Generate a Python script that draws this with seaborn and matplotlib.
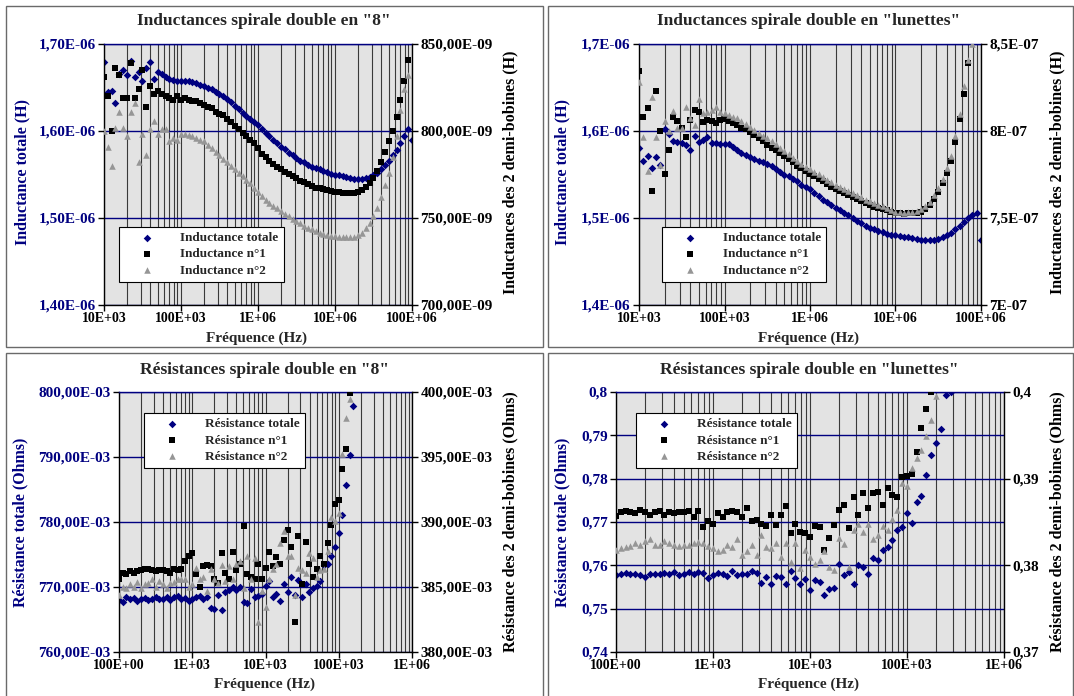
import numpy as np
import pandas as pd
import matplotlib
matplotlib.use("Agg")
import matplotlib.pyplot as plt
from matplotlib.patches import Rectangle
from matplotlib.ticker import FixedLocator, FixedFormatter, LogLocator, NullFormatter
import seaborn as sns

nan = np.nan

# mantisses des points de mesure dans chaque décade
MANTISSES = [1.00, 1.12, 1.26, 1.41, 1.58, 1.78, 2.00, 2.24, 2.51, 2.82,
             3.16, 3.55, 3.98, 4.47, 5.01, 5.62, 6.31, 7.08, 7.94, 8.91]

# --- Inductances "8" (total en uH, demi-bobines en nH), 10 kHz -> 100 MHz
L8_TOTAL = [1.679, 1.645, 1.646, 1.632, 1.666, 1.670, 1.664, 1.680, 1.662, 1.668,
            1.657, 1.672, 1.679, 1.660, 1.668, 1.665, 1.662, 1.660, 1.659, 1.657,
            1.657, 1.658, 1.657, 1.656, 1.655, 1.653, 1.652, 1.650, 1.648, 1.645,
            1.643, 1.640, 1.637, 1.633, 1.629, 1.625, 1.621, 1.617, 1.614, 1.610,
            1.607, 1.602, 1.598, 1.594, 1.590, 1.586, 1.582, 1.579, 1.575, 1.572,
            1.569, 1.566, 1.564, 1.561, 1.559, 1.557, 1.556, 1.554, 1.553, 1.551,
            1.550, 1.549, 1.548, 1.547, 1.546, 1.545, 1.545, 1.545, 1.546, 1.547,
            1.549, 1.552, 1.556, 1.561, 1.566, 1.572, 1.578, 1.586, 1.594, 1.602,
            1.590]
L8_N1 = [831, 820, 800, 836, 832, 819, 819, 839, 819, 824,
         835, 814, 826, 821, 823, 821, 820, 819, 818, 820,
         818, 819, 818, 817, 817, 816, 815, 814, 813, 811,
         810, 809, 807, 805, 803, 801, 799, 797, 795, 793,
         790, 787, 785, 783, 781, 779.5, 778, 776.5, 775, 774,
         773, 771.5, 770.5, 769.5, 768.5, 767.5, 767, 766.5, 766, 765.5,
         765, 764.7, 764.5, 764.3, 764.2, 764.2, 764.8, 766, 768, 770,
         773, 777, 782, 788, 794, 800, 808, 818, 829, 841,
         nan]
L8_N2 = [800, 791, 780, 802, 811, 802, 797, 811, 816, 782,
         798, 786, 801, 806, 798, 801, 801, 794, 796, 795,
         798, 798, 797.5, 797, 796, 795, 794, 792, 790, 788,
         786, 784, 782, 780, 778, 776, 774, 772, 770, 767.5,
         765, 762.5, 760.5, 758.5, 757, 755.5, 754, 752.5, 751, 749.5,
         748, 747, 745.5, 744.5, 743.5, 742.5, 741.5, 741, 740.3, 739.8,
         739.4, 739.2, 739, 739, 739, 739.2, 740, 741.5, 744, 747,
         751, 756, 762, 769, 776, 785, 797, 812, 824, 832,
         nan]

# --- Inductances "lunettes"
LL_TOTAL = [1.581, 1.566, 1.571, 1.558, 1.570, 1.561, 1.602, 1.596, 1.588, 1.587,
            1.586, 1.584, 1.578, 1.594, 1.587, 1.590, 1.593, 1.586, 1.586, 1.585,
            1.585, 1.585, 1.582, 1.578, 1.575, 1.572, 1.570, 1.568, 1.566, 1.564,
            1.562, 1.560, 1.556, 1.553, 1.550, 1.548, 1.545, 1.542, 1.538, 1.536,
            1.533, 1.529, 1.525, 1.521, 1.518, 1.515, 1.512, 1.509, 1.506, 1.503,
            1.500, 1.497, 1.494, 1.491, 1.489, 1.487, 1.485, 1.484, 1.482, 1.481,
            1.480, 1.479, 1.478, 1.478, 1.477, 1.476, 1.475, 1.475, 1.475, 1.475,
            1.476, 1.478, 1.480, 1.483, 1.487, 1.491, 1.495, 1.500, 1.504, 1.506,
            1.475]
LL_N1 = [834.7, 807.9, 813, 765.7, 823.2, 800.2, 775.3, 789, 807.9, 805.9,
         801.5, 796.7, 806.3, 812.1, 811.1, 805.4, 806.3, 805.9, 804.4, 806.3,
         806.9, 805.5, 804.4, 803.5, 802, 801, 799.5, 797.5, 796, 794,
         792, 790.5, 789, 787.5, 785.5, 784, 782, 780, 778.5, 777,
         775.5, 774, 772.5, 771, 769.5, 768, 766.8, 765.6, 764.4, 763.2,
         762, 760.8, 759.6, 758.4, 757.4, 756.6, 755.9, 755.3, 754.5, 753.5,
         752.7, 752.6, 752.5, 752.6, 752.7, 753, 753.6, 755, 757.5, 761,
         765.1, 770, 776, 783, 793.8, 807, 821, 839, nan, nan,
         nan]
LL_N2 = [828.4, 796.7, 777.2, 819.3, 796.7, 780.5, 805.9, 800.2, 811.7, 801.5,
         801.5, 813.6, 807.3, 803.4, 818.2, 810.2, 811.1, 812, 814, 811.1,
         810.2, 809, 807.9, 807.3, 805.5, 803.8, 802.2, 800.5, 799, 797.4,
         795.8, 794.2, 792.5, 790.5, 788.5, 786.5, 784.5, 782.5, 781, 779.5,
         778, 776.5, 775, 773.5, 772, 770.5, 769, 767.8, 766.6, 765.4,
         764.2, 763, 761.8, 760.6, 759.5, 758.5, 757.6, 756.7, 755.6, 754.5,
         753.6, 753.2, 753, 753.2, 753.5, 754, 755, 756.7, 759.4, 763,
         767.5, 772.5, 778.5, 785.5, 797, 810, 826, 841, 850, nan,
         nan]

# --- Résistances "8" (mOhm), 100 Hz -> 160 kHz
R8_TOTAL = [768.0, 767.7, 768.4, 768.2, 768.3, 767.9, 768.1, 768.3, 768.0, 768.2,
            768.4, 768.1, 768.2, 768.5, 768.0, 768.4, 768.6, 768.2, 768.3, 767.8,
            768.1, 768.4, 768.6, 768.1, 768.5, 766.8, 766.6, 768.7, 766.4, 769.3,
            769.6, 770.0, 769.6, 770.0, 767.7, 767.6, 769.7, 768.4, 768.6, 768.9,
            770.1, 771.0, 768.5, 769.0, 767.9, 770.4, 769.2, 771.5, 768.8, 771.1,
            768.4, 770.5, 769.2, 769.9, 770.1, 771.0, 773.4, 773.6, 774.8, 776.2,
            778.3, 781.1, 785.7, 790.3, 797.8]
R8_N1 = [385.6, 386.1, 386.0, 386.2, 386.1, 386.2, 386.3, 386.4, 386.4, 386.3,
         386.2, 386.3, 386.3, 386.2, 386.1, 386.4, 386.3, 386.4, 387.0, 387.4,
         387.6, 386.0, 385.0, 386.6, 386.7, 386.6, 385.6, 385.3, 387.6, 386.1,
         385.6, 387.7, 386.3, 386.8, 389.7, 386.0, 385.8, 385.6, 386.8, 385.6,
         386.5, 387.7, 386.6, 387.3, 386.8, 388.6, 389.4, 388.1, 382.3, 388.9,
         385.2, 388.5, 386.8, 385.8, 386.4, 387.4, 386.8, 388.4, 389.8, 391.4,
         391.7, 394.1, 395.6, 399.9, nan]
R8_N2 = [384.4, 385.0, 384.9, 385.2, 385.0, 385.4, 384.9, 385.2, 385.3, 385.6,
         385.0, 385.5, 385.2, 384.9, 385.3, 385.4, 385.6, 385.6, 385.6, 385.0,
         385.2, 386.5, 385.6, 385.8, 384.7, 386.4, 385.6, 385.3, 386.7, 385.5,
         386.6, 385.6, 386.8, 387.0, 384.9, 387.4, 385.6, 387.2, 382.3, 384.7,
         383.5, 385.6, 386.4, 386.8, 388.4, 389.3, 387.4, 387.4, 384.4, 386.5,
         386.3, 386.1, 387.6, 387.2, 385.8, 386.3, 386.4, 387.8, 390.4, 390.1,
         390.7, 395.2, 398.0, 399.5, nan]

# --- Résistances "lunettes" (Ohm), 100 Hz -> 280 kHz
RL_TOTAL = [0.7578, 0.7580, 0.7582, 0.7579, 0.7581, 0.7578, 0.7572, 0.7581, 0.7579, 0.7581,
            0.7583, 0.7579, 0.7584, 0.7577, 0.7580, 0.7585, 0.7579, 0.7584, 0.7582, 0.7570,
            0.7577, 0.7582, 0.7580, 0.7575, 0.7586, 0.7578, 0.7580, 0.7579, 0.7586, 0.7582,
            0.7560, 0.7573, 0.7558, 0.7576, 0.7574, 0.7556, 0.7586, 0.7571, 0.7557, 0.7569,
            0.7544, 0.7566, 0.7562, 0.7531, 0.7545, 0.7547, 0.7604, 0.7578, 0.7585, 0.7558,
            0.7600, 0.7597, 0.7580, 0.7616, 0.7612, 0.7635, 0.7643, 0.7658, 0.7682, 0.7689,
            0.7720, 0.7697, 0.7747, 0.7759, 0.7809, 0.7855, 0.7882, 0.7915, 0.7994, 0.8000]
RL_N1 = [0.3857, 0.3861, 0.3863, 0.3862, 0.3860, 0.3864, 0.3862, 0.3858, 0.3862, 0.3863,
         0.3858, 0.3862, 0.3860, 0.3862, 0.3861, 0.3863, 0.3856, 0.3863, 0.3844, 0.3851,
         0.3848, 0.3860, 0.3856, 0.3862, 0.3863, 0.3861, 0.3856, 0.3866, 0.3851, 0.3852,
         0.3848, 0.3845, 0.3858, 0.3847, 0.3858, 0.3868, 0.3837, 0.3848, 0.3839, 0.3837,
         0.3833, 0.3845, 0.3844, 0.3818, 0.3831, 0.3847, 0.3864, 0.3870, 0.3843, 0.3879,
         0.3858, 0.3883, 0.3866, 0.3883, 0.3885, 0.3870, 0.3889, 0.3881, 0.3879, 0.3902,
         0.3903, 0.3905, 0.3931, 0.3958, 0.3980, 0.4000, nan, nan, nan, nan]
RL_N2 = [0.3818, 0.3820, 0.3821, 0.3822, 0.3826, 0.3824, 0.3828, 0.3830, 0.3824, 0.3823,
         0.3828, 0.3826, 0.3824, 0.3822, 0.3824, 0.3823, 0.3826, 0.3827, 0.3826, 0.3822,
         0.3820, 0.3816, 0.3818, 0.3824, 0.3821, 0.3830, 0.3812, 0.3816, 0.3824, 0.3812,
         0.3835, 0.3821, 0.3820, 0.3826, 0.3810, 0.3826, 0.3804, 0.3826, 0.3797, 0.3818,
         0.3810, 0.3802, 0.3806, 0.3816, 0.3798, 0.3795, 0.3831, 0.3825, 0.3798, 0.3841,
         0.3848, 0.3839, 0.3848, 0.3830, 0.3835, 0.3845, 0.3841, 0.3854, 0.3864, 0.3895,
         0.3891, 0.3912, 0.3924, 0.3933, 0.3949, 0.3968, 0.3995, nan, nan, nan]

# axes (graduations et libellés)
XT_HAUT = [1e4, 1e5, 1e6, 1e7, 1e8]
XL_HAUT = ['10E+03', '100E+03', '1E+06', '10E+06', '100E+06']
XT_BAS = [1e2, 1e3, 1e4, 1e5, 1e6]
XL_BAS = ['100E+00', '1E+03', '10E+03', '100E+03', '1E+06']

YT_L8 = [1.40e-6, 1.50e-6, 1.60e-6, 1.70e-6]
YL_L8 = ['1,40E-06', '1,50E-06', '1,60E-06', '1,70E-06']
YT2_L8 = [700e-9, 750e-9, 800e-9, 850e-9]
YL2_L8 = ['700,00E-09', '750,00E-09', '800,00E-09', '850,00E-09']
YL_LL = ['1,4E-06', '1,5E-06', '1,6E-06', '1,7E-06']
YL2_LL = ['7E-07', '7,5E-07', '8E-07', '8,5E-07']

YT_R8 = [0.760, 0.770, 0.780, 0.790, 0.800]
YL_R8 = ['760,00E-03', '770,00E-03', '780,00E-03', '790,00E-03', '800,00E-03']
YT2_R8 = [0.380, 0.385, 0.390, 0.395, 0.400]
YL2_R8 = ['380,00E-03', '385,00E-03', '390,00E-03', '395,00E-03', '400,00E-03']
YT_RL = [0.74, 0.75, 0.76, 0.77, 0.78, 0.79, 0.80]
YL_RL = ['0,74', '0,75', '0,76', '0,77', '0,78', '0,79', '0,8']
YT2_RL = [0.37, 0.38, 0.39, 0.40]
YL2_RL = ['0,37', '0,38', '0,39', '0,4']

NAVY = '#000080'
GRIS = '#969696'
FOND = '#e3e3e3'
W, H = 1074, 696
GRAS = 'bold'


def balayage(decade0, n):
    f = [m * 10.0 ** d for d in range(decade0, decade0 + 4) for m in MANTISSES]
    f.append(10.0 ** (decade0 + 4))
    return f[:n]


def fx(x):
    return x / W


def fy(y):
    return 1 - y / H


def trace_panneau(fig, p):
    l, t, r, b = p['axe']
    ax = fig.add_axes([fx(l), fy(b), (r - l) / W, (b - t) / H])
    ax.set_facecolor(FOND)
    ax2 = ax.twinx()

    df = pd.DataFrame({
        'freq': p['freq'],
        'total': np.array(p['total'], dtype=float) * p['k'],
        'n1': np.array(p['n1'], dtype=float) * p['k2'],
        'n2': np.array(p['n2'], dtype=float) * p['k2'],
    })
    noms = p['noms']
    sns.scatterplot(data=df, x='freq', y='total', ax=ax, marker='D', s=15,
                    color=NAVY, linewidth=0, legend=False, label=noms[0])
    sns.scatterplot(data=df, x='freq', y='n1', ax=ax2, marker='s', s=20,
                    color='black', linewidth=0, legend=False, label=noms[1])
    sns.scatterplot(data=df, x='freq', y='n2', ax=ax2, marker='^', s=22,
                    color=GRIS, linewidth=0, legend=False, label=noms[2])

    ax.set_xscale('log')
    ax.set_xlim(p['xt'][0], p['xt'][-1])
    ax.xaxis.set_major_locator(FixedLocator(p['xt']))
    ax.xaxis.set_major_formatter(FixedFormatter(p['xl']))
    ax.xaxis.set_minor_locator(LogLocator(base=10, subs=np.arange(2, 10), numticks=60))
    ax.xaxis.set_minor_formatter(NullFormatter())

    ax.set_ylim(p['yt'][0], p['yt'][-1])
    ax.yaxis.set_major_locator(FixedLocator(p['yt']))
    ax.yaxis.set_major_formatter(FixedFormatter(p['yl']))
    ax2.set_ylim(p['yt2'][0], p['yt2'][-1])
    ax2.yaxis.set_major_locator(FixedLocator(p['yt2']))
    ax2.yaxis.set_major_formatter(FixedFormatter(p['yl2']))

    for a in (ax, ax2):
        a.set_xlabel('')
        a.set_ylabel('')

    ax.set_axisbelow(True)
    ax.grid(True, axis='x', which='both', color='#3a3a3a', lw=0.8)
    ax.grid(True, axis='y', which='major', color=NAVY, lw=1.0)
    ax2.grid(False)

    ax.tick_params(axis='x', which='major', direction='out', length=4, width=1,
                   labelsize=10, pad=1, colors='black')
    ax.tick_params(axis='x', which='minor', length=0)
    ax.tick_params(axis='y', direction='out', length=4, width=1, labelsize=11,
                   labelcolor=NAVY, color='black', pad=2)
    ax2.tick_params(axis='y', direction='out', length=4, width=1, labelsize=11,
                    labelcolor='black', color='black', pad=2)
    for lbl in ax.get_xticklabels() + ax.get_yticklabels() + ax2.get_yticklabels():
        lbl.set_fontweight(GRAS)

    ax.spines['top'].set_color(NAVY)
    ax.spines['right'].set_visible(False)
    for s in ('top', 'left', 'bottom'):
        ax2.spines[s].set_visible(False)
    ax2.spines['right'].set_color('black')

    h1, l1 = ax.get_legend_handles_labels()
    h2, l2 = ax2.get_legend_handles_labels()
    leg = ax2.legend(h1 + h2, l1 + l2, loc='upper left', bbox_to_anchor=p['leg'],
                     frameon=True, fancybox=False, framealpha=1, edgecolor='black',
                     prop={'size': 9.5, 'weight': GRAS}, handlelength=3.4,
                     handletextpad=0.8, borderpad=0.4, labelspacing=0.3,
                     borderaxespad=0)
    leg.get_frame().set_linewidth(0.8)

    # textes: titre, abscisse, ordonnées
    cx, ty = p['titre_pos']
    fig.text(fx(cx), fy(ty), p['titre'], ha='center', va='center', fontsize=12.5,
             fontweight=GRAS)
    cx, ty = p['xlab_pos']
    fig.text(fx(cx), fy(ty), 'Fréquence (Hz)', ha='center', va='center', fontsize=11,
             fontweight=GRAS)
    xg, xd, yc = p['ylab_pos']
    fig.text(fx(xg), fy(yc), p['ylab'], ha='center', va='center', rotation=90,
             fontsize=11.5, color=NAVY, fontweight=GRAS)
    fig.text(fx(xd), fy(yc), p['ylab2'], ha='center', va='center', rotation=90,
             fontsize=11.5, color='black', fontweight=GRAS)

    x0, y0, x1, y1 = p['cadre']
    fig.add_artist(Rectangle((fx(x0), fy(y1)), (x1 - x0) / W, (y1 - y0) / H,
                             transform=fig.transFigure, fill=False,
                             edgecolor='#6a6a6a', lw=1))


sns.set_theme(style='ticks')
plt.rcParams['font.family'] = ['Liberation Serif', 'DejaVu Serif']
plt.rcParams['font.weight'] = 'bold'
plt.rcParams['axes.edgecolor'] = 'black'
plt.rcParams['axes.linewidth'] = 1.0

NOMS_L = ['Inductance totale', 'Inductance n°1', 'Inductance n°2']
NOMS_R = ['Résistance totale', 'Résistance n°1', 'Résistance n°2']

panneaux = [
    dict(titre='Inductances spirale double en "8"', freq=balayage(4, 81),
         total=L8_TOTAL, n1=L8_N1, n2=L8_N2, k=1e-6, k2=1e-9, noms=NOMS_L,
         xt=XT_HAUT, xl=XL_HAUT, yt=YT_L8, yl=YL_L8, yt2=YT2_L8, yl2=YL2_L8,
         axe=(104, 44, 412, 305), leg=(0.05, 0.30),
         titre_pos=(264, 21), xlab_pos=(257, 338), ylab_pos=(22, 510, 172),
         ylab='Inductance totale (H)', ylab2='Inductances des 2 demi-bobines (H)',
         cadre=(6, 6, 543, 347)),
    dict(titre='Inductances spirale double en "lunettes"', freq=balayage(4, 81),
         total=LL_TOTAL, n1=LL_N1, n2=LL_N2, k=1e-6, k2=1e-9, noms=NOMS_L,
         xt=XT_HAUT, xl=XL_HAUT, yt=YT_L8, yl=YL_LL, yt2=YT2_L8, yl2=YL2_LL,
         axe=(639, 44, 981, 305), leg=(0.067, 0.30),
         titre_pos=(809, 21), xlab_pos=(809, 338), ylab_pos=(562, 1057, 172),
         ylab='Inductance totale (H)', ylab2='Inductances des 2 demi-bobines (H)',
         cadre=(548, 6, 1073, 347)),
    dict(titre='Résistances spirale double en "8"', freq=balayage(2, 65),
         total=R8_TOTAL, n1=R8_N1, n2=R8_N2, k=1e-3, k2=1e-3, noms=NOMS_R,
         xt=XT_BAS, xl=XL_BAS, yt=YT_R8, yl=YL_R8, yt2=YT2_R8, yl2=YL2_R8,
         axe=(119, 392, 412, 652), leg=(0.085, 0.92),
         titre_pos=(265, 370), xlab_pos=(265, 684), ylab_pos=(20, 510, 522),
         ylab='Résistance totale (Ohms)', ylab2='Résistance des 2 demi-bobines (Ohms)',
         cadre=(6, 353, 543, 700)),
    dict(titre='Résistances spirale double en "lunettes"', freq=balayage(2, 70),
         total=RL_TOTAL, n1=RL_N1, n2=RL_N2, k=1.0, k2=1.0, noms=NOMS_R,
         xt=XT_BAS, xl=XL_BAS, yt=YT_RL, yl=YL_RL, yt2=YT2_RL, yl2=YL2_RL,
         axe=(616, 392, 1004, 652), leg=(0.052, 0.92),
         titre_pos=(809, 370), xlab_pos=(809, 684), ylab_pos=(562, 1057, 522),
         ylab='Résistance totale (Ohms)', ylab2='Résistance des 2 demi-bobines (Ohms)',
         cadre=(548, 353, 1073, 700)),
]

fig = plt.figure(figsize=(W / 100, H / 100), dpi=100)
fig.patch.set_facecolor('white')
for p in panneaux:
    trace_panneau(fig, p)

fig.savefig('out.png', dpi=100)
